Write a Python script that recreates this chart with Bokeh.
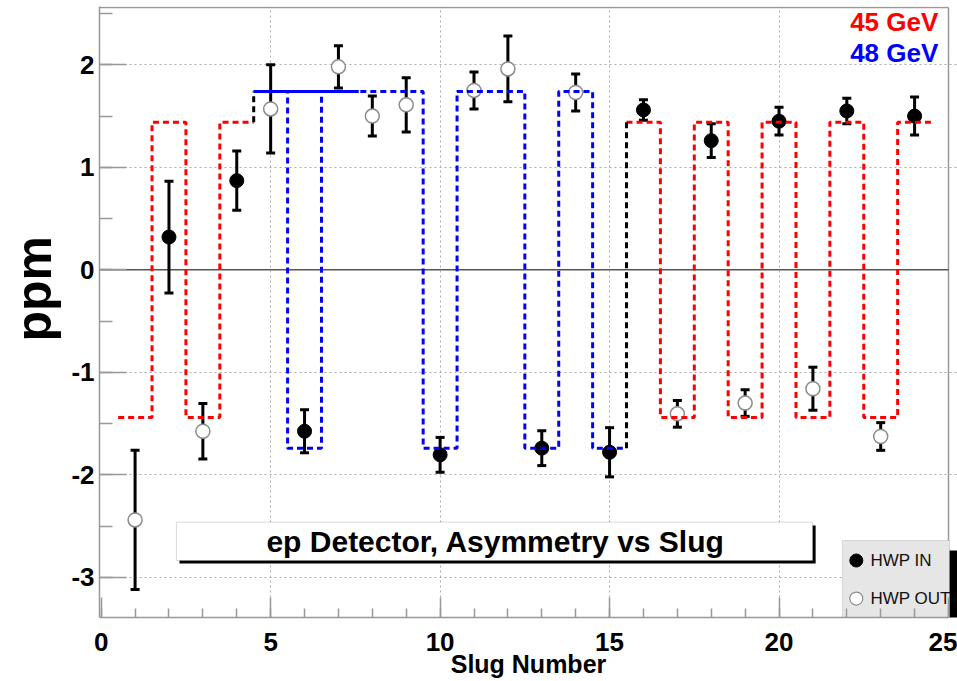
import math
from bokeh.plotting import figure
from bokeh.models import (Range1d, Whisker, TeeHead, ColumnDataSource, Label, Title,
                          BoxAnnotation, FixedTicker)
from bokeh.embed import file_html
from bokeh.resources import INLINE
from bokeh.core.properties import value

# ---------------- data ----------------
slugs = list(range(1, 25))
asym = [-2.44, 0.32, -1.575, 0.87, 1.57, -1.575, 1.98, 1.50, 1.61, -1.805, 1.75, 1.96,
        -1.74, 1.73, -1.78, 1.56, -1.405, 1.26, -1.30, 1.45, -1.16, 1.55, -1.626, 1.50]
err = [0.68, 0.545, 0.27, 0.29, 0.43, 0.21, 0.205, 0.195, 0.265, 0.17, 0.18, 0.32,
       0.17, 0.18, 0.24, 0.10, 0.13, 0.165, 0.13, 0.135, 0.21, 0.125, 0.135, 0.185]
hwp = ["OUT", "IN", "OUT", "IN", "OUT", "IN", "OUT", "OUT", "OUT", "IN", "OUT", "OUT",
       "IN", "OUT", "IN", "IN", "OUT", "IN", "OUT", "IN", "OUT", "IN", "OUT", "IN"]
energy = ["45"] * 4 + ["48"] * 11 + ["45"] * 9
step_sign = [-1, 1, -1, 1, 1, -1, 1, 1, 1, -1, 1, 1, -1, 1, -1, 1, -1, 1, -1, 1, -1, 1, -1, 1]
expected_asym = {"45": 1.44, "48": 1.74}
solid_slugs = [5, 7]          # solid 48 GeV reference segment
energy_labels = ["45 GeV", "48 GeV"]
legend_labels = ["HWP IN", "HWP OUT"]
x_ticks = [0, 5, 10, 15, 20, 25]
y_ticks = [-3, -2, -1, 0, 1, 2]

FONT = "Liberation Sans"
RED = "#ff0000"
BLUE = "#0000ff"
GREY = "#999999"
energy_color = {"45": RED, "48": BLUE}

X0, X1 = -0.05, 25.0          # visible axis extent
Y0, Y1 = -3.392, 2.559

p = figure(width=957, height=681, x_range=Range1d(X0, 25.266), y_range=Range1d(Y0, 2.569),
           output_backend="svg", toolbar_location=None,
           min_border_left=98, min_border_right=0, min_border_top=6, min_border_bottom=64)
p.outline_line_color = None
p.background_fill_color = "white"
p.border_fill_color = "white"

# axes
p.xaxis.ticker = FixedTicker(ticks=x_ticks, minor_ticks=list(range(0, 26)))
p.yaxis.ticker = FixedTicker(ticks=y_ticks, minor_ticks=[-3.0 + 0.5 * i for i in range(12)])
p.yaxis.major_label_overrides = {t: str(t) for t in y_ticks}
p.xaxis.bounds = (X0, X1)
for ax in (p.xaxis[0], p.yaxis[0]):
    ax.axis_line_color = GREY
    ax.axis_line_width = 1.5
    ax.major_tick_line_color = GREY
    ax.minor_tick_line_color = GREY
    ax.major_tick_line_width = 1.5
    ax.minor_tick_line_width = 1.5
    ax.major_tick_out = 0
    ax.minor_tick_out = 0
    ax.major_label_text_font = FONT
    ax.major_label_text_font_style = "bold"
    ax.major_label_text_font_size = "26px"
    ax.major_label_text_color = "black"
p.xaxis.major_tick_in = 20
p.xaxis.minor_tick_in = 9
p.xaxis.major_label_standoff = 15
p.xaxis.axis_label = "Slug Number"
p.xaxis.axis_label_standoff = -4
p.xaxis.axis_label_text_font = FONT
p.xaxis.axis_label_text_font_style = "bold"
p.xaxis.axis_label_text_font_size = "25px"
p.xaxis.axis_label_text_color = "black"
p.yaxis.major_tick_in = 27
p.yaxis.minor_tick_in = 13
p.yaxis.major_label_standoff = 5

p.add_layout(Title(text="ppm", align="left", offset=276, standoff=10, vertical_align="top",
                   text_font=FONT, text_font_style="bold", text_font_size="50px",
                   text_color="black"), "left")

# grid
p.xgrid.ticker = FixedTicker(ticks=[5, 10, 15, 20])
p.ygrid.ticker = FixedTicker(ticks=[-3, -2, -1, 1, 2])
p.ygrid.bounds = (X0, X1)
for g in (p.xgrid[0], p.ygrid[0]):
    g.grid_line_color = "#aaaaaa"
    g.grid_line_dash = "2 3"
    g.grid_line_width = 1

# frame top / right border and zero line
p.segment(x0=[X0, X1], y0=[Y1, Y0], x1=[X1, X1], y1=[Y1, Y1], line_color=GREY, line_width=1.5,
          level="underlay")
p.segment(x0=[X0], y0=[0], x1=[X1], y1=[0], line_color="#555555", line_width=1.5, level="underlay")

# title box (shadow + box)
p.add_layout(BoxAnnotation(left=2.31, right=21.08, top=-2.495, bottom=-2.865,
                           fill_color="black", fill_alpha=1, line_alpha=0, level="underlay"))
p.add_layout(BoxAnnotation(left=2.22, right=20.99, top=-2.462, bottom=-2.836,
                           fill_color="white", fill_alpha=1, line_color="#888888",
                           line_width=1, level="underlay"))
p.add_layout(Label(x=11.64, y=-2.651, text="ep Detector, Asymmetry vs Slug",
                   text_align="center", text_baseline="middle", text_font=FONT,
                   text_font_style="bold", text_font_size="30px", text_color="black"))

# legend box (shadow + box)
p.add_layout(BoxAnnotation(left=22.17, right=25.26, top=-2.739, bottom=-3.451,
                           fill_color="black", fill_alpha=1, line_alpha=0, level="underlay"))
p.add_layout(BoxAnnotation(left=21.87, right=25.03, top=-2.641, bottom=-3.402,
                           fill_color="#e6e6e6", fill_alpha=1, line_color="#999999",
                           line_width=1, level="underlay"))

# error bars
upper = [a + e for a, e in zip(asym, err)]
lower = [a - e for a, e in zip(asym, err)]
src = ColumnDataSource(dict(x=slugs, y=asym, upper=upper, lower=lower))
w = Whisker(source=src, base="x", upper="upper", lower="lower", line_color="black", line_width=3,
            upper_head=TeeHead(size=9, line_color="black", line_width=3),
            lower_head=TeeHead(size=9, line_color="black", line_width=3), level="underlay")
p.add_layout(w)

# markers
x_in = [s for s, h in zip(slugs, hwp) if h == "IN"]
y_in = [a for a, h in zip(asym, hwp) if h == "IN"]
x_out = [s for s, h in zip(slugs, hwp) if h == "OUT"]
y_out = [a for a, h in zip(asym, hwp) if h == "OUT"]
p.scatter(x_in, y_in, size=14, fill_color="black", line_color="black")
p.scatter(x_out, y_out, size=14, fill_color="white", line_color="#8c8c8c", line_width=1.5)

# expected-asymmetry step lines
groups = []
for s, e, sg in zip(slugs, energy, step_sign):
    lvl = sg * expected_asym[e]
    if groups and groups[-1]["e"] == e:
        groups[-1]["x"] += [s - 0.5, s + 0.5]
        groups[-1]["y"] += [lvl, lvl]
    else:
        groups.append({"e": e, "x": [s - 0.5, s + 0.5], "y": [lvl, lvl]})
for i, g in enumerate(groups):
    p.line(g["x"], g["y"], line_color=energy_color[g["e"]], line_width=3, line_dash="6 4")
    if i > 0:
        prev = groups[i - 1]
        p.line([prev["x"][-1], g["x"][0]], [prev["y"][-1], g["y"][0]],
               line_color="black", line_width=3, line_dash="6 4")
p.line([solid_slugs[0] - 0.5, solid_slugs[1] + 0.6],
       [expected_asym["48"], expected_asym["48"]], line_color=BLUE, line_width=3)

# legend entries
p.scatter([22.28], [-2.836], size=13, fill_color="black", line_color="black")
p.scatter([22.28], [-3.207], size=13, fill_color="white", line_color="#8c8c8c", line_width=1.2)
p.text([22.70, 22.70], [-2.836, -3.207], text=legend_labels, text_align="left",
       text_baseline="middle", text_font=value(FONT), text_font_size="17px", text_color="#111111")

# energy labels
p.add_layout(Label(x=24.70, y=2.413, text=energy_labels[0], text_align="right", text_baseline="middle",
                   text_font=FONT, text_font_style="bold", text_font_size="26px", text_color=RED))
p.add_layout(Label(x=24.70, y=2.12, text=energy_labels[1], text_align="right", text_baseline="middle",
                   text_font=FONT, text_font_style="bold", text_font_size="26px", text_color=BLUE))

open("out.html", "w").write(file_html(p, INLINE))
